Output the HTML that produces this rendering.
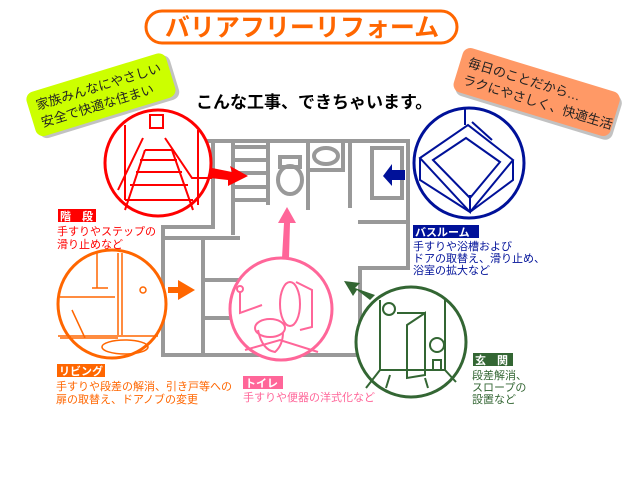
<!DOCTYPE html>
<html><head><meta charset="utf-8"><style>
html,body{margin:0;padding:0;background:#fff;width:640px;height:480px;overflow:hidden}
svg text{font-family:"Liberation Sans","Noto Sans CJK JP",sans-serif}
</style></head><body>
<svg width="640" height="480" viewBox="0 0 640 480" xmlns="http://www.w3.org/2000/svg">
<rect x="146" y="11" width="311" height="32" rx="16" fill="#fff" stroke="#ff6600" stroke-width="3"/>
<text x="302" y="36" text-anchor="middle" font-size="25" font-weight="bold" fill="#ff6600" letter-spacing="0">バリアフリーリフォーム</text>
<text x="196" y="108" font-size="17" font-weight="bold" fill="#000">こんな工事、できちゃいます。</text>
<g transform="rotate(-17 100 95)">
<rect x="28" y="72" width="146" height="46" rx="8" fill="#999" opacity=".6" transform="translate(3,3)"/>
<rect x="28" y="72" width="146" height="46" rx="8" fill="#ccff00"/>
<text x="36" y="91" font-size="13" fill="#222">家族みんなにやさしい</text>
<text x="36" y="109" font-size="13" fill="#222">安全で快適な住まい</text>
</g>
<g transform="rotate(17 530 90)">
<rect x="455" y="67" width="164" height="46" rx="8" fill="#999" opacity=".6" transform="translate(3,3)"/>
<rect x="455" y="67" width="164" height="46" rx="8" fill="#ff9966"/>
<text x="463" y="86" font-size="13" fill="#222">毎日のことだから…</text>
<text x="463" y="104" font-size="13" fill="#222">ラクにやさしく、快適生活</text>
</g>
<g fill="none" stroke="#999" stroke-width="4">
<path d="M165 141 H408 V268 H360 V355 H163 V227 H213 V141"/>
<path d="M233 141 V235 M233 147 H268 M233 160 H268 M233 173 H268 M233 187 H268 M233 200 H268 M268 141 V205"/>
<path d="M308 141 V210 M308 170 H343 V141 M350 141 V208 M358 222 H408"/>
<rect x="372" y="148" width="30" height="50"/>
<rect x="280" y="157" width="20" height="10"/>
<ellipse cx="290" cy="180" rx="12" ry="14"/>
<ellipse cx="326" cy="156" rx="12" ry="8"/>
<path d="M163 238 H240 M203 238 V355 M203 280 H240 M203 318 H240"/>
</g>
<path d="M212 168 L232 172 L230 166 L248 176 L228 186 L228 180 L210 178 Z" fill="#f00"/>
<path d="M405 170 L392 170 L392 164 L383 176 L392 186 L392 180 L405 180 Z" fill="#001199"/>
<path d="M168 287 L178 287 L178 280 L195 290 L178 300 L178 293 L168 293 Z" fill="#ff6600"/>
<path d="M282 258 L284 223 L278 223 L287 207 L296 223 L290 223 L289 258 Z" fill="#ff6699"/>
<path d="M370 300 L357 290 L353 296 L344 281 L360 283 L355 288 L375 295 Z" fill="#336633"/>
<circle cx="158" cy="163" r="53" fill="#fff" stroke="#f00" stroke-width="3"/>
<g stroke="#f00" stroke-width="2" fill="none">
<path d="M125 125 V200 M198 130 V205 M150 115 H163 V128 H150 Z M143 138 L118 190 M165 138 L192 178 H212"/>
<path d="M145 150 H172 M140 160 H177 M136 172 H182 M130 185 H188 M125 200 H193 M145 150 L125 210 M172 150 L193 210"/>
</g>
<circle cx="469" cy="163" r="55" fill="#fff" stroke="#001199" stroke-width="3"/>
<g stroke="#001199" stroke-width="2" fill="none">
<path d="M420 158 L468 125 L513 160 L470 212 Z M420 158 V180 L470 212 V195 M513 160 V180 L470 212"/>
<path d="M433 160 L466 138 L500 162 L470 198 Z M465 108 V125 M472 122 L492 140"/>
</g>
<circle cx="112" cy="304" r="54" fill="#fff" stroke="#ff6600" stroke-width="3"/>
<g stroke="#ff6600" stroke-width="1.5" fill="none">
<path d="M118 253 V335 M122 253 V335 M97 253 V288 M92 288 H108 M60 297 H115 M72 310 L85 338 M60 338 H118 M58 336 H158"/>
<circle cx="143" cy="290" r="3"/><ellipse cx="125" cy="347" rx="23" ry="7"/>
</g>
<circle cx="281" cy="309" r="51" fill="#fff" stroke="#ff6699" stroke-width="3"/>
<g stroke="#ff6699" stroke-width="2" fill="none">
<path d="M240 292 V313 L262 305 M296 282 L312 290 V327 L300 330 M245 350 L280 340 L318 352"/>
<ellipse cx="290" cy="304" rx="10" ry="22"/><ellipse cx="270" cy="328" rx="15" ry="9"/>
<path d="M258 330 Q262 350 275 352 Q283 345 283 332"/>
<circle cx="240" cy="289" r="3"/>
</g>
<circle cx="411" cy="342" r="55" fill="#fff" stroke="#336633" stroke-width="3"/>
<g stroke="#336633" stroke-width="2" fill="none">
<path d="M380 300 V370 L366 388 M445 300 V370 L456 382 M380 370 H445 M397 313 H425 V375 M407 325 L425 313 V375 L407 378 Z M390 375 L386 388 M425 378 L428 388"/>
<circle cx="389" cy="309" r="6"/><circle cx="437" cy="345" r="7"/><rect x="433" y="360" width="8" height="10"/>
</g>
<g font-size="11">
<rect x="58" y="209" width="38" height="13" fill="#f00"/><text x="60" y="220" fill="#fff" font-size="11" font-weight="bold">階　段</text>
<text x="57" y="235" fill="#f00">手すりやステップの</text>
<text x="57" y="248" fill="#f00">滑り止めなど</text>
<rect x="57" y="364" width="48" height="13" fill="#ff6600"/><text x="59" y="375" fill="#fff" font-size="11" font-weight="bold">リビング</text>
<text x="56" y="390" fill="#ff6600">手すりや段差の解消、引き戸等への</text>
<text x="56" y="403" fill="#ff6600">扉の取替え、ドアノブの変更</text>
<rect x="243" y="376" width="40" height="13" fill="#ff6699"/><text x="245" y="387" fill="#fff" font-size="11" font-weight="bold">トイレ</text>
<text x="243" y="401" fill="#ff6699">手すりや便器の洋式化など</text>
<rect x="413" y="225" width="66" height="13" fill="#001199"/><text x="415" y="236" fill="#fff" font-size="11" font-weight="bold">バスルーム</text>
<text x="413" y="250" fill="#001199">手すりや浴槽および</text>
<text x="413" y="262" fill="#001199">ドアの取替え、滑り止め、</text>
<text x="413" y="274" fill="#001199">浴室の拡大など</text>
<rect x="473" y="353" width="40" height="13" fill="#336633"/><text x="475" y="364" fill="#fff" font-size="11" font-weight="bold">玄　関</text>
<text x="472" y="379" fill="#336633">段差解消、</text>
<text x="472" y="391" fill="#336633">スロープの</text>
<text x="472" y="403" fill="#336633">設置など</text>
</g>
</svg>
</body></html>
